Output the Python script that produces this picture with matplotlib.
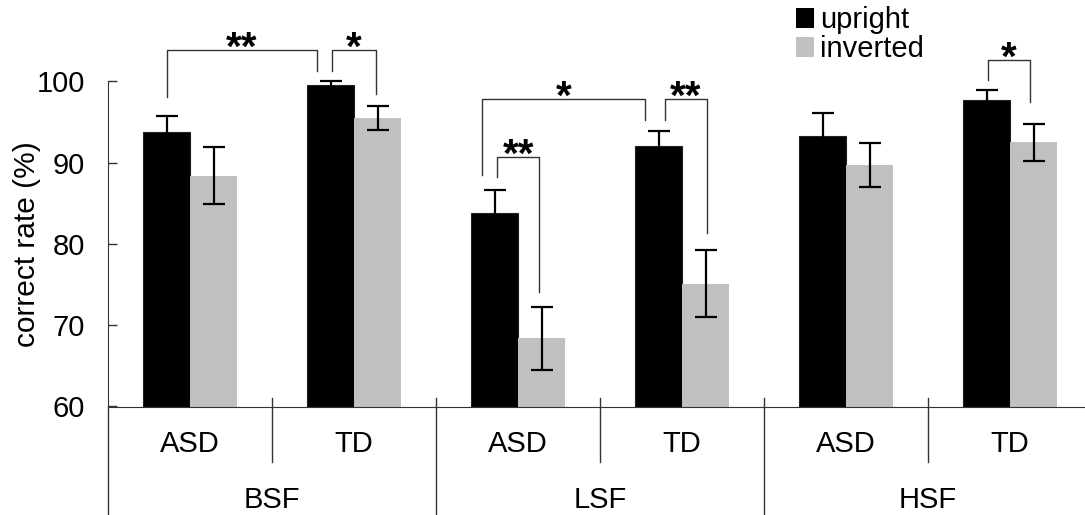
import numpy as np
import matplotlib.pyplot as plt
from matplotlib.patches import Rectangle

plt.rcParams['font.family'] = ['Liberation Sans', 'DejaVu Sans']

# Data
bands = ['BSF', 'LSF', 'HSF']
groups = ['ASD', 'TD']

upright_mean = [93.8, 99.6, 83.8, 92.0, 93.3, 97.7]
upright_err = [1.9, 0.45, 2.8, 1.9, 2.8, 1.3]
inverted_mean = [88.4, 95.5, 68.4, 75.1, 89.7, 92.5]
inverted_err = [3.5, 1.5, 3.9, 4.1, 2.7, 2.3]

# significance brackets: (subgroup a, series a, subgroup b, series b, label,
#                         bracket level, leg end a, leg end b, shift a, shift b)
brackets = [
    (0, 0, 1, 0, '**', 103.9, 98.1, 101.3, 0.0, -0.085),
    (1, 0, 1, 1, '*', 103.9, 101.3, 98.5, 0.01, -0.01),
    (2, 0, 3, 0, '*', 97.9, 88.5, 95.3, -0.075, -0.085),
    (2, 0, 2, 1, '**', 90.75, 88.2, 74.1, 0.018, -0.015),
    (3, 0, 3, 1, '**', 97.9, 95.3, 81.3, 0.037, 0.01),
    (5, 0, 5, 1, '*', 102.7, 100.2, 97.5, 0.01, -0.02),
]

colors = ['black', '#c0c0c0']
line_col = '#333333'

fig = plt.figure(figsize=(10.85, 5.15), dpi=100)
ax = fig.add_axes([108 / 1085, 108.5 / 515, 977 / 1085, 406.5 / 515])

x = np.arange(len(bands) * len(groups))
w = 0.2866
xpos = [x - w / 2, x + w / 2]

ax.bar(xpos[0], upright_mean, width=w, color=colors[0], edgecolor='#222222', linewidth=0.8, zorder=2)
ax.bar(xpos[1], inverted_mean, width=w, color=colors[1], linewidth=0, zorder=2)
ax.errorbar(xpos[0], upright_mean, yerr=upright_err, fmt='none', ecolor='black',
            elinewidth=1.6, capsize=8, capthick=1.6, zorder=3)
ax.errorbar(xpos[1], inverted_mean, yerr=inverted_err, fmt='none', ecolor='black',
            elinewidth=1.6, capsize=8, capthick=1.6, zorder=3)

ax.set_xlim(-0.5, 5.457)
ax.set_ylim(60, 110.03)

# significance brackets and stars
for ga, sa, gb, sb, lab, lev, ea, eb, da, db in brackets:
    xa = xpos[sa][ga] + da
    xb = xpos[sb][gb] + db
    ax.plot([xa, xa, xb, xb], [ea, lev, lev, eb], color=line_col, lw=1, zorder=4)
    ax.annotate(lab, xy=((xa + xb) / 2, lev), xytext=(0, -7.5), textcoords='offset points',
                ha='center', va='baseline', fontsize=29, fontweight='bold')

# axes styling
for s in ['top', 'right']:
    ax.spines[s].set_visible(False)
ax.spines['left'].set_bounds(60, 100)
ax.spines['left'].set_color(line_col)
ax.spines['bottom'].set_color(line_col)

ax.set_yticks([60, 70, 80, 90, 100])
ax.tick_params(axis='y', direction='in', length=6.5, width=1, pad=16.5,
               labelsize=21, color=line_col, labelcolor='black')
ax.set_xticks(x, groups * len(bands))
ax.tick_params(axis='x', length=0, pad=17, labelsize=21)

ax.set_ylabel('correct rate (%)', fontsize=21.5)
ax.yaxis.set_label_coords(-0.0683, 0.40)

# group separators below the axis
tr = ax.get_xaxis_transform()
ax.plot([-0.5, -0.5], [0, -0.3], transform=tr, color=line_col, lw=1, clip_on=False)
for i in range(len(bands)):
    mid = i * 2 + 0.5
    ax.plot([mid, mid], [0.021, -0.1365], transform=tr, color=line_col, lw=1, clip_on=False)
    ax.text(mid, -0.2497, bands[i], transform=tr, ha='center', va='baseline', fontsize=21)
    if i < len(bands) - 1:
        edge = i * 2 + 1.5
        ax.plot([edge, edge], [0.021, -0.3], transform=tr, color=line_col, lw=1, clip_on=False)

# legend
handles = [Rectangle((0, 0), 1, 1, facecolor=c, edgecolor='none') for c in colors]
ax.legend(handles, ['upright', 'inverted'], loc='upper left',
          bbox_to_anchor=(796 / 1085, 1 - 6 / 515), bbox_transform=fig.transFigure,
          frameon=False, fontsize=21, handlelength=0.62, handleheight=0.68,
          handletextpad=0.2, labelspacing=0.05, borderpad=0, borderaxespad=0)

fig.savefig('out.png', dpi=100)
